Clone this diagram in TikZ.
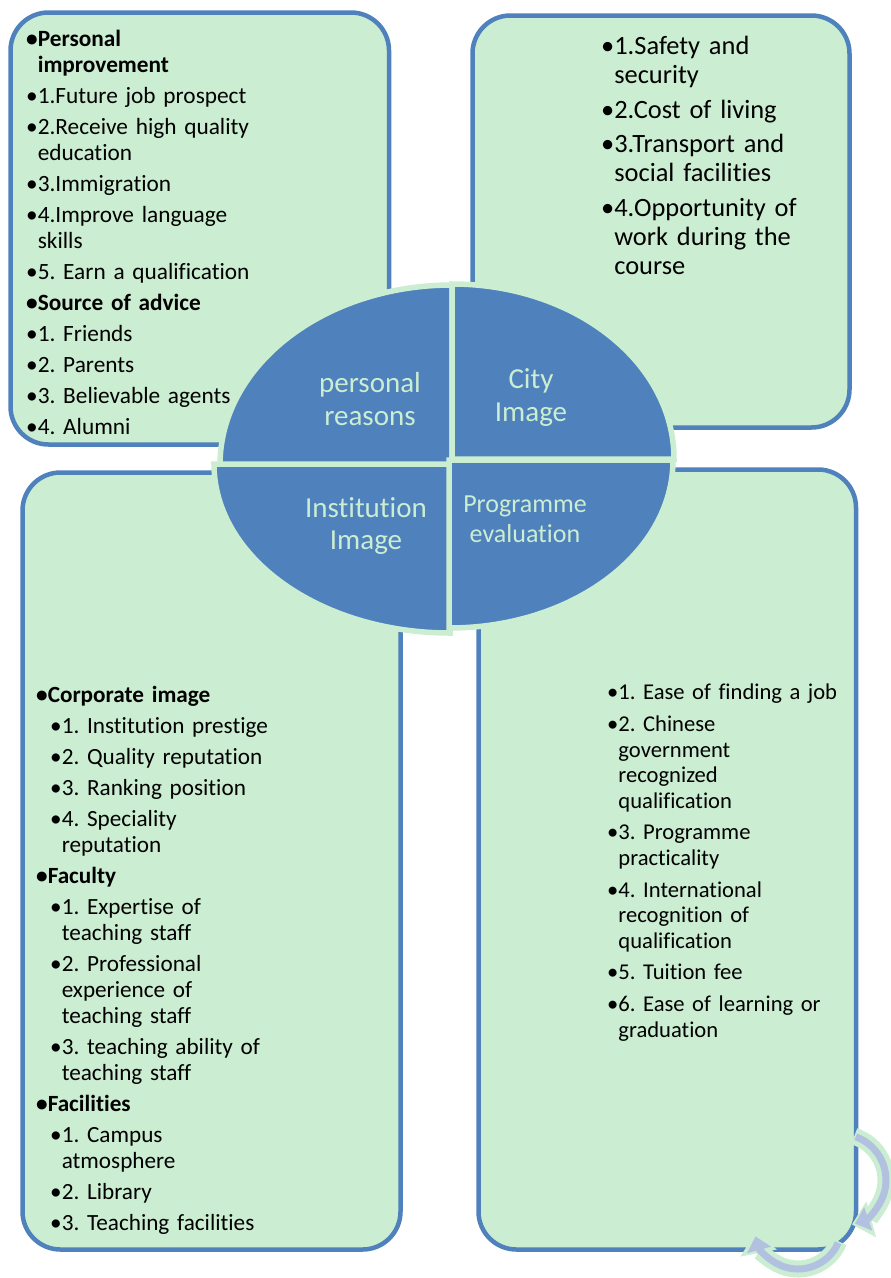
\documentclass[tikz,border=0pt]{standalone}
\usepackage{fontspec}
\setmainfont{Carlito}[Ligatures=NoCommon]
\usepackage{xcolor}
\usepackage{tikz}
\usetikzlibrary{arrows.meta}
\definecolor{bxGreen}{HTML}{CBEDD1}
\definecolor{bxBlue}{HTML}{4F81BD}
\definecolor{arLilac}{HTML}{B3C1E0}
\frenchspacing

% list items: bullet, then a top-aligned block of lines
\newcommand\fst{\rule{0pt}{22pt}}
\newcommand\lst{\rule[-7pt]{0pt}{0pt}}
\newcommand\itm[1]{\par\noindent\hbox{•}\parbox[t]{260pt}{\raggedright#1\lst}\par\prevdepth=7pt}
\newcommand\bitm[1]{\par\noindent{\bfseries\hbox{•}\parbox[t]{260pt}{\raggedright#1\lst}}\par\prevdepth=7pt}
\newcommand\sitm[1]{\par\noindent\hspace*{14pt}\hbox{•}\parbox[t]{260pt}{\raggedright#1\lst}\par\prevdepth=7pt}

\begin{document}
\begin{tikzpicture}[x=1pt,y=-1pt,
  box/.style={draw=bxBlue, fill=bxGreen, line width=4.5pt, rounded corners=38pt},
  list/.style={anchor=north west, inner sep=0pt, text width=300pt, align=left},
  gap/.style={execute at begin node={\setlength{\parskip}{#1}\lineskiplimit=-20pt}},
  quad/.style={fill=bxBlue, draw=bxGreen, line width=5.5pt},
  qlabel/.style={text=bxGreen, align=center, inner sep=0pt, anchor=north},
  rim/.style={draw=bxGreen, line width=17pt},
  band/.style={draw=arLilac, line width=7pt}]
  \useasboundingbox (0,0) rectangle (891,1278);

  % four boxes
  \draw[box] (10.5,12.5) rectangle (389,444.5);
  \draw[box] (472.5,15.5) rectangle (849.5,427.5);
  \draw[box] (22.5,472.5) rectangle (400.5,1249.5);
  \draw[box] (478.5,469.5) rectangle (856,1249.5);

  \node[list, gap=5pt, font=\fontsize{23.3}{26}\selectfont] (personalList) at (26,15) {%
    \bitm{\fst Personal\\improvement}
    \itm{1.Future job prospect}
    \itm{2.Receive high quality\\education}
    \itm{3.Immigration}
    \itm{4.Improve language\\skills}
    \itm{5. Earn a qualification}
    \bitm{Source of advice}
    \itm{1. Friends}
    \itm{2. Parents}
    \itm{3. Believable agents}
    \itm{4. Alumni}};

  \node[list, gap=5.5pt, font=\fontsize{26.4}{29}\selectfont] (cityList) at (601,20) {%
    \itm{\fst 1.Safety and\\security}
    \itm{2.Cost of living}
    \itm{3.Transport and\\social facilities}
    \itm{4.Opportunity of\\work during the\\course}};

  \node[list, gap=5pt, font=\fontsize{23.2}{26}\selectfont] (instList) at (36,671) {%
    \bitm{\fst Corporate image}
    \sitm{1. Institution prestige}
    \sitm{2. Quality reputation}
    \sitm{3. Ranking position}
    \sitm{4. Speciality\\reputation}
    \bitm{Faculty}
    \sitm{1. Expertise of\\teaching staff}
    \sitm{2. Professional\\experience of\\teaching staff}
    \sitm{3. teaching ability of\\teaching staff}
    \bitm{Facilities}
    \sitm{1. Campus\\atmosphere}
    \sitm{2. Library}
    \sitm{3. Teaching facilities}};

  \node[list, gap=6pt, font=\fontsize{22.6}{25.6}\selectfont] (progList) at (607,668) {%
    \itm{\fst 1. Ease of finding a job}
    \itm{2. Chinese\\government\\recognized\\qualification}
    \itm{3. Programme\\practicality}
    \itm{4. International\\recognition of\\qualification}
    \itm{5. Tuition fee}
    \itm{6. Ease of learning or\\graduation}};

  % split ellipse
  \foreach \cx/\cy/\rx/\ry/\a in {452/465/232/180/180, 452/459/222/175/270,
                                  450/464/236/169/90, 449/460/224/168/0}
    \draw[quad] (\cx,\cy) -- ({\cx+\rx*cos(\a)},{\cy+\ry*sin(\a)})
      arc[start angle=\a, delta angle=90, x radius=\rx, y radius=\ry] -- cycle;

  \node[qlabel, font=\fontsize{29}{33}\selectfont] (personal) at (370,370) {\fst personal\\reasons};
  \node[qlabel, font=\fontsize{29}{33}\selectfont] (city) at (531,366) {\fst City\\Image};
  \node[qlabel, font=\fontsize{29}{32}\selectfont] (institution) at (366,495) {\fst Institution\\Image};
  \node[qlabel, font=\fontsize{26}{30}\selectfont] (programme) at (525,490) {\fst Programme\\evaluation};

  % cycle arrows
  \draw[rim, -{Triangle[length=20pt,width=36pt]}]
    ({840+46*cos(-72)},{1180+46*sin(-72)}) arc[start angle=-72, end angle=75, radius=46];
  \draw[band, -{Triangle[length=14pt,width=24pt]}]
    ({840+46*cos(-70)},{1180+46*sin(-70)}) arc[start angle=-70, end angle=71, radius=46];
  \draw[rim, -{Triangle[length=20pt,width=36pt]}]
    ({798+44*cos(22)},{1225+44*sin(22)}) arc[start angle=22, end angle=169, radius=44];
  \draw[band, -{Triangle[length=14pt,width=24pt]}]
    ({798+44*cos(24)},{1225+44*sin(24)}) arc[start angle=24, end angle=165, radius=44];
\end{tikzpicture}
\end{document}
